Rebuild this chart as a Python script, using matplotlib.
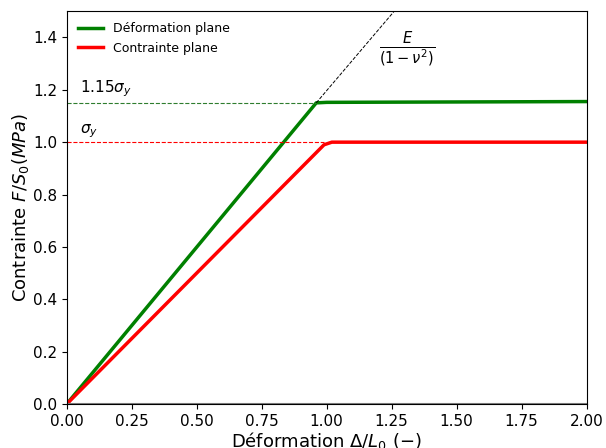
import matplotlib
matplotlib.use('Agg')
import matplotlib.pyplot as plt

# Déformation plane
x_dp = [0.0, 0.96, 1.0, 2.0]
y_dp = [0.0, 1.15, 1.152, 1.155]

# Contrainte plane
x_cp = [0.0, 0.99, 1.02, 2.0]
y_cp = [0.0, 0.99, 1.0, 1.0]

# prolongement élastique E/(1-nu^2)
x_el = [0.96, 1.26]
y_el = [1.15, 1.5]

sigma_y = 1.0
sigma_dp = 1.15

fig, ax = plt.subplots(figsize=(6.06, 4.48), dpi=100)

ax.plot(x_dp, y_dp, color='green', lw=2.5, label='Déformation plane')
ax.plot(x_cp, y_cp, color='red', lw=2.5, label='Contrainte plane')
ax.plot(x_el, y_el, 'k--', lw=0.7)

ax.plot([0, x_dp[1]], [sigma_dp, sigma_dp], '--', color='#2e7d2e', lw=0.8)
ax.plot([0, x_cp[1]], [sigma_y, sigma_y], '--', color='red', lw=0.8)
ax.axhline(0, color='gray', lw=1.5)

ax.text(0.05, 1.19, r'$1.15\sigma_y$', fontsize=11)
ax.text(0.05, 1.035, r'$\sigma_y$', fontsize=11)
ax.text(1.31, 1.355, r'$\frac{E}{(1-\nu^2)}$', fontsize=15, ha='center', va='center')

ax.set_xlim(0, 2)
ax.set_ylim(0, 1.5)
ax.tick_params(labelsize=11)
ax.set_xlabel(r'Déformation $\Delta/L_0$ $(-)$', fontsize=13, labelpad=1)
ax.set_ylabel(r'Contrainte $F/S_0 (MPa)$', fontsize=13, labelpad=1)
ax.legend(loc='upper left', frameon=False, fontsize=9)

plt.subplots_adjust(left=0.11, right=0.968, top=0.975, bottom=0.098)
plt.savefig('out.png')
